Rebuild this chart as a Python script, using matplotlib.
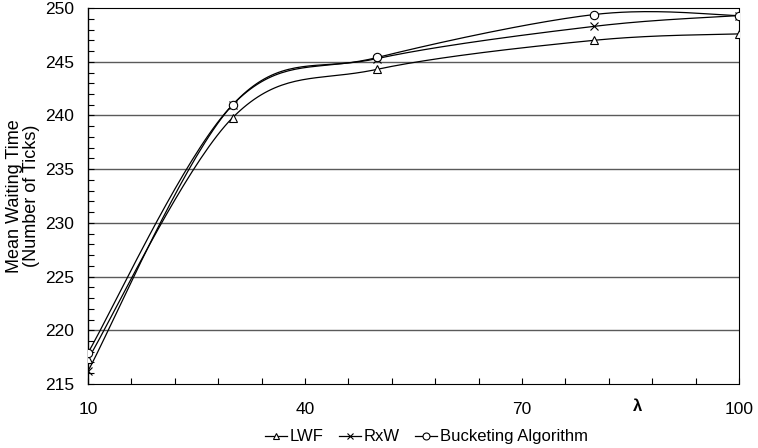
import numpy as np
import matplotlib.pyplot as plt
from matplotlib.ticker import FixedLocator, MultipleLocator

plt.rcParams['font.family'] = ['Liberation Sans', 'DejaVu Sans']

# data
lam = [10, 30, 50, 80, 100]
lwf = [217.3, 239.8, 244.3, 247.0, 247.6]
rxw = [216.2, 241.0, 245.3, 248.3, 249.3]
bucket = [217.9, 241.0, 245.4, 249.4, 249.3]

x_ticks = [10, 40, 70, 100]

series = [("LWF", lwf, "^"), ("RxW", rxw, "x"), ("Bucketing Algorithm", bucket, "o")]


def smooth(x, y, n=40):
    # excel style smoothing (catmull-rom bezier)
    x = np.asarray(x, float)
    y = np.asarray(y, float)
    px = np.concatenate([[x[0]], x, [x[-1]]])
    py = np.concatenate([[y[0]], y, [y[-1]]])
    t = np.linspace(0, 1, n)
    xs, ys = [], []
    for i in range(1, len(px) - 2):
        p0 = np.array([px[i], py[i]])
        p3 = np.array([px[i + 1], py[i + 1]])
        p1 = p0 + (p3 - np.array([px[i - 1], py[i - 1]])) / 6
        p2 = p3 - (np.array([px[i + 2], py[i + 2]]) - p0) / 6
        b = ((1 - t) ** 3)[:, None] * p0 + (3 * (1 - t) ** 2 * t)[:, None] * p1 \
            + (3 * (1 - t) * t ** 2)[:, None] * p2 + (t ** 3)[:, None] * p3
        xs.append(b[:, 0])
        ys.append(b[:, 1])
    return np.concatenate(xs), np.concatenate(ys)


fig = plt.figure(figsize=(7.58, 4.48), dpi=100)
ax = fig.add_axes([0.1161, 0.1429, 0.975 - 0.1161, 0.982 - 0.1429])

for y in [220, 225, 230, 235, 240, 245]:
    ax.axhline(y, color="#5a5a5a", lw=1.0, zorder=1)

for name, vals, m in series:
    sx, sy = smooth(lam, vals)
    ax.plot(sx, sy, color="black", lw=0.9, zorder=3)
    ax.plot(lam, vals, ls="none", marker=m, ms=6, mfc="white", mec="black",
            mew=0.8, zorder=4)
    ax.plot([], [], color="black", lw=0.9, marker=m, ms=5, mfc="white",
            mec="black", mew=0.8, label=name)

ax.set_xlim(10, 100)
ax.set_ylim(215, 250)
ax.xaxis.set_major_locator(FixedLocator(x_ticks))
ax.xaxis.set_minor_locator(FixedLocator(np.arange(10, 101, 6)))
ax.yaxis.set_major_locator(MultipleLocator(5))
ax.yaxis.set_minor_locator(MultipleLocator(1))
ax.tick_params(axis="both", which="both", direction="in", length=4, width=0.8,
               labelsize=12.5)
ax.tick_params(axis="x", which="both", pad=13, top=False)
ax.tick_params(axis="y", which="both", pad=10, right=False)

for s in ["top", "right", "bottom"]:
    ax.spines[s].set_linestyle((0, (1, 1)))
    ax.spines[s].set_linewidth(0.8)
ax.spines["left"].set_linewidth(1.0)

ax.text(-0.1, 0.5, "Mean Waiting Time\n(Number of Ticks)", transform=ax.transAxes,
        rotation=90, ha="center", va="center", fontsize=13, linespacing=1.0)

ax.text(86, -0.061, "λ", transform=ax.get_xaxis_transform(), ha="center",
        va="center", fontsize=12, fontweight="bold")

ax.legend(loc="center", bbox_to_anchor=(0.52, -0.141), ncol=3, frameon=False,
          fontsize=12, handlelength=1.3, handletextpad=0.2, columnspacing=0.9,
          borderpad=0)

fig.savefig("out.png", dpi=100)
